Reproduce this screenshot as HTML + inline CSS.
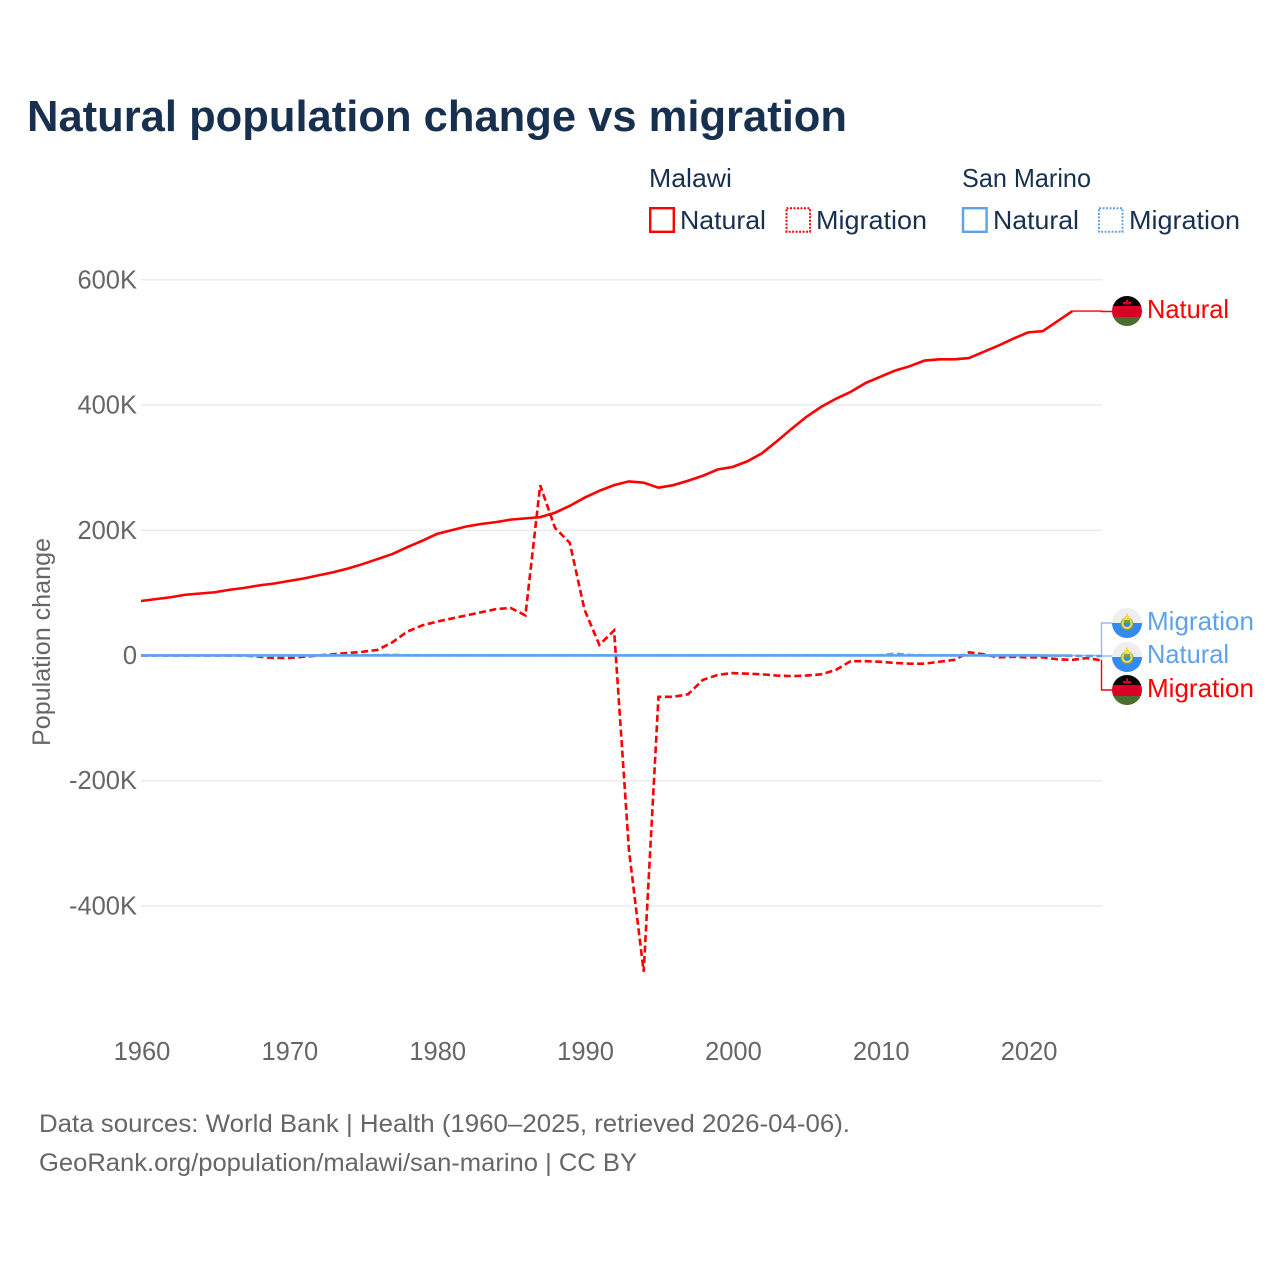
<!DOCTYPE html>
<html lang="en">
<head>
<meta charset="utf-8">
<title>Natural population change vs migration</title>
<style>
html,body{margin:0;padding:0;background:#fff;width:1280px;height:1280px;overflow:hidden}
svg{display:block}
text{font-family:"Liberation Sans",sans-serif}
</style>
</head>
<body>
<svg id="chart" width="1280" height="1280" viewBox="0 0 1280 1280" xmlns="http://www.w3.org/2000/svg">
  <defs>
    <clipPath id="flag-clip"><circle cx="0" cy="0" r="15"/></clipPath>
    <g id="flag-malawi">
      <g clip-path="url(#flag-clip)">
        <rect x="-15" y="-15" width="30" height="10" fill="#000"/>
        <rect x="-15" y="-5" width="30" height="11" fill="#d80027"/>
        <rect x="-15" y="6" width="30" height="9" fill="#496e2d"/>
        <rect x="-4" y="-9" width="8" height="2.5" fill="#d80027"/>
        <rect x="-1" y="-11.5" width="2" height="3" fill="#d80027"/>
      </g>
    </g>
    <g id="flag-san-marino">
      <g clip-path="url(#flag-clip)">
        <rect x="-15" y="-15" width="30" height="15" fill="#eeeeee"/>
        <rect x="-15" y="0" width="30" height="15" fill="#338af3"/>
        <circle cx="0" cy="1" r="6.500" fill="#6da544"/>
        <circle cx="0" cy="0.500" r="5.500" fill="#ffda44"/>
        <circle cx="0" cy="0.500" r="3.500" fill="#338af3"/>
        <rect x="-3" y="-3" width="6" height="3.200" fill="#6da544"/>
        <rect x="-2.500" y="-7" width="5" height="4" fill="#ffda44"/>
        <rect x="-1" y="-9.500" width="2" height="3" fill="#ffda44"/>
      </g>
    </g>
  </defs>

  <text x="27" y="131" font-size="44" font-weight="700" fill="#18304f" textLength="820" lengthAdjust="spacingAndGlyphs">Natural population change vs migration</text>

  <g fill="#18304f" font-size="26">
    <text x="649" y="187" textLength="83" lengthAdjust="spacingAndGlyphs">Malawi</text>
    <text x="962" y="187" textLength="129" lengthAdjust="spacingAndGlyphs">San Marino</text>

    <g>
      <rect x="650.200" y="208.200" width="23.600" height="23.600" fill="none" stroke="#ff0000" stroke-width="2.400"/>
      <text x="680" y="229" textLength="86" lengthAdjust="spacingAndGlyphs">Natural</text>
    </g>
    <g>
      <rect x="786.500" y="208.200" width="23.500" height="23.600" fill="none" stroke="#ff0000" stroke-width="2" stroke-dasharray="2 1.500"/>
      <text x="816" y="229" textLength="111" lengthAdjust="spacingAndGlyphs">Migration</text>
    </g>
    <g>
      <rect x="963" y="208.200" width="23.600" height="23.600" fill="none" stroke="#5ea2e8" stroke-width="2.400"/>
      <text x="993" y="229" textLength="86" lengthAdjust="spacingAndGlyphs">Natural</text>
    </g>
    <g>
      <rect x="1099" y="208.200" width="23.500" height="23.600" fill="none" stroke="#5ea2e8" stroke-width="2" stroke-dasharray="2 1.500"/>
      <text x="1129" y="229" textLength="111" lengthAdjust="spacingAndGlyphs">Migration</text>
    </g>
  </g>

  <g id="grid"></g>
  <g id="y-ticks"></g>
  <g id="x-ticks"></g>

  <text transform="translate(50,642) rotate(-90)" text-anchor="middle" font-size="25" fill="#666666" textLength="208" lengthAdjust="spacingAndGlyphs">Population change</text>

  <g id="leaders" fill="none" stroke-width="1.400"></g>
  <g id="series" fill="none" stroke-width="2.600"></g>

  <g font-size="26">
    <g>
      <use href="#flag-malawi" x="1127" y="311"/>
      <text x="1147" y="318" fill="#ff0000" textLength="82" lengthAdjust="spacingAndGlyphs">Natural</text>
    </g>
    <g>
      <use href="#flag-san-marino" x="1127" y="623"/>
      <text x="1147" y="630" fill="#5ea2e8" textLength="107" lengthAdjust="spacingAndGlyphs">Migration</text>
    </g>
    <g>
      <use href="#flag-san-marino" x="1127" y="657"/>
      <text x="1147" y="663" fill="#5ea2e8" textLength="82" lengthAdjust="spacingAndGlyphs">Natural</text>
    </g>
    <g>
      <use href="#flag-malawi" x="1127" y="690"/>
      <text x="1147" y="697" fill="#ff0000" textLength="107" lengthAdjust="spacingAndGlyphs">Migration</text>
    </g>
  </g>

  <g font-size="25" fill="#666666">
    <text x="39" y="1132" textLength="811" lengthAdjust="spacingAndGlyphs">Data sources: World Bank | Health (1960–2025, retrieved 2026-04-06).</text>
    <text x="39" y="1171" textLength="598" lengthAdjust="spacingAndGlyphs">GeoRank.org/population/malawi/san-marino | CC BY</text>
  </g>
</svg>
<script>
const startYear = 1960;
const xTickYears = [1960, 1970, 1980, 1990, 2000, 2010, 2020];
const yTickValues = [600, 400, 200, 0, -200, -400];
const yTickLabels = ["600K", "400K", "200K", "0", "-200K", "-400K"];
const malawiNatural = [87,90,93,97,99,101,105,108,112,115,119,123,128,133,139,146,154,162,173,183,194,200,206,210,213,217,219,221,228,239,252,263,272,278,276,268,272,279,287,297,301,310,323,342,362,381,397,410,421,435,445,455,462,471,473,473,475,485,495,506,516,518,534,550];
const malawiMigration = [0,0,0,0,0,0,0,0,-2,-4,-4,-2,0,2,4,6,9,21,38,48,54,59,64,69,74,76,64,272,204,180,73,17,40,-310,-505,-66,-66,-62,-39,-31,-28,-29,-30,-32,-33,-32,-30,-23,-9,-9,-10,-12,-13,-13,-10,-7,5,2,-3,-2,-3,-3,-6,-7,-4,-8];
const sanMarinoNatural = [0.1,0.1,0.1,0.1,0.1,0.1,0.1,0.1,0.1,0.1,0.1,0.1,0.1,0.1,0.1,0.1,0.1,0.1,0.1,0.1,0.1,0.1,0.1,0.1,0.1,0.1,0.1,0.1,0.1,0.1,0.1,0.1,0.1,0.1,0.1,0.1,0.1,0.1,0.1,0.1,0.1,0.1,0.1,0.1,0.1,0.1,0.1,0.1,0.1,0.1,0.1,0.1,0.1,0.1,0.1,0.1,0.1,0.1,0.1,0.1,0.1,0,0,0];
const sanMarinoMigration = [0,0,0,0,0,0,0,-0.5,-0.5,-0.5,-0.5,0,0,0.3,0.5,0.5,0.5,1,0.3,0.2,0.2,0.2,0.2,0.2,0.2,0.2,0.2,0.2,0.2,0.2,0.2,0.2,0.2,0.2,0.2,0.2,0.2,0.2,0.2,0.2,0.2,0.2,0.2,0.2,0.2,0.3,0.3,0.3,0.3,0.3,0.5,3,1,0.3,0.3,0.3,0.5,0.3,0.3,0.3,0.2,0,-0.5,-0.5,-0.8,-1];

const svgNS = "http://www.w3.org/2000/svg";
function xScale(year) { return 141 + (year - startYear) * 14.785; }
function yScale(v) { return 655.5 - v * 0.6262; }

const grid = document.getElementById("grid");
const yTicks = document.getElementById("y-ticks");
const xTicks = document.getElementById("x-ticks");
const seriesGroup = document.getElementById("series");
const leaders = document.getElementById("leaders");

yTickValues.forEach(function (v, i) {
  if (v !== 0) {
    const line = document.createElementNS(svgNS, "line");
    
    
    line.setAttribute("x1", 141);
    line.setAttribute("x2", 1102);
    line.setAttribute("y1", yScale(v));
    line.setAttribute("y2", yScale(v));
    line.setAttribute("stroke", "#e8e8e8");
    line.setAttribute("stroke-width", "1.300");
    grid.appendChild(line);
  }
  const label = document.createElementNS(svgNS, "text");
  
  
  label.setAttribute("x", 137);
  label.setAttribute("y", yScale(v) + 8.5);
  label.setAttribute("text-anchor", "end");
  label.setAttribute("font-size", "25.500");
  label.setAttribute("fill", "#666666");
  label.textContent = yTickLabels[i];
  yTicks.appendChild(label);
});

xTickYears.forEach(function (year) {
  const label = document.createElementNS(svgNS, "text");
  
  
  label.setAttribute("x", xScale(year) + 1);
  label.setAttribute("y", 1060);
  label.setAttribute("text-anchor", "middle");
  label.setAttribute("font-size", "25.500");
  label.setAttribute("fill", "#666666");
  label.textContent = String(year);
  xTicks.appendChild(label);
});

function linePath(values) {
  return values.map(function (v, i) {
    return (i ? "L" : "M") + xScale(startYear + i).toFixed(2) + " " + yScale(v).toFixed(2);
  }).join(" ");
}

function endPoint(values) {
  const i = values.length - 1;
  return [xScale(startYear + i), yScale(values[i])];
}

function addLeader(values, labelY, color) {
  const p = endPoint(values);
  const path = document.createElementNS(svgNS, "path");
  
  
  path.setAttribute("d", "M" + p[0] + " " + p[1] + " L1101.5 " + p[1] + " L1101.5 " + labelY + " L1113 " + labelY);
  path.setAttribute("stroke", color);
  leaders.appendChild(path);
}

addLeader(malawiNatural, 311.5, "#ff0000");
addLeader(malawiMigration, 690, "#ff0000");
addLeader(sanMarinoMigration, 623, "#8dbdf0");
addLeader(sanMarinoNatural, 656, "#8dbdf0");

const malawiNaturalLine = document.createElementNS(svgNS, "path");


malawiNaturalLine.setAttribute("d", linePath(malawiNatural));
malawiNaturalLine.setAttribute("stroke", "#ff0000");
seriesGroup.appendChild(malawiNaturalLine);

const malawiMigrationLine = document.createElementNS(svgNS, "path");


malawiMigrationLine.setAttribute("d", linePath(malawiMigration));
malawiMigrationLine.setAttribute("stroke", "#ff0000");
malawiMigrationLine.setAttribute("stroke-dasharray", "7 3.5");
seriesGroup.appendChild(malawiMigrationLine);

const sanMarinoNaturalLine = document.createElementNS(svgNS, "path");


sanMarinoNaturalLine.setAttribute("d", linePath(sanMarinoNatural));
sanMarinoNaturalLine.setAttribute("stroke", "#5ea2e8");
seriesGroup.appendChild(sanMarinoNaturalLine);

const sanMarinoMigrationLine = document.createElementNS(svgNS, "path");


sanMarinoMigrationLine.setAttribute("d", linePath(sanMarinoMigration));
sanMarinoMigrationLine.setAttribute("stroke", "#5ea2e8");
sanMarinoMigrationLine.setAttribute("stroke-dasharray", "7 3.5");
seriesGroup.appendChild(sanMarinoMigrationLine);
</script>
</body>
</html>
